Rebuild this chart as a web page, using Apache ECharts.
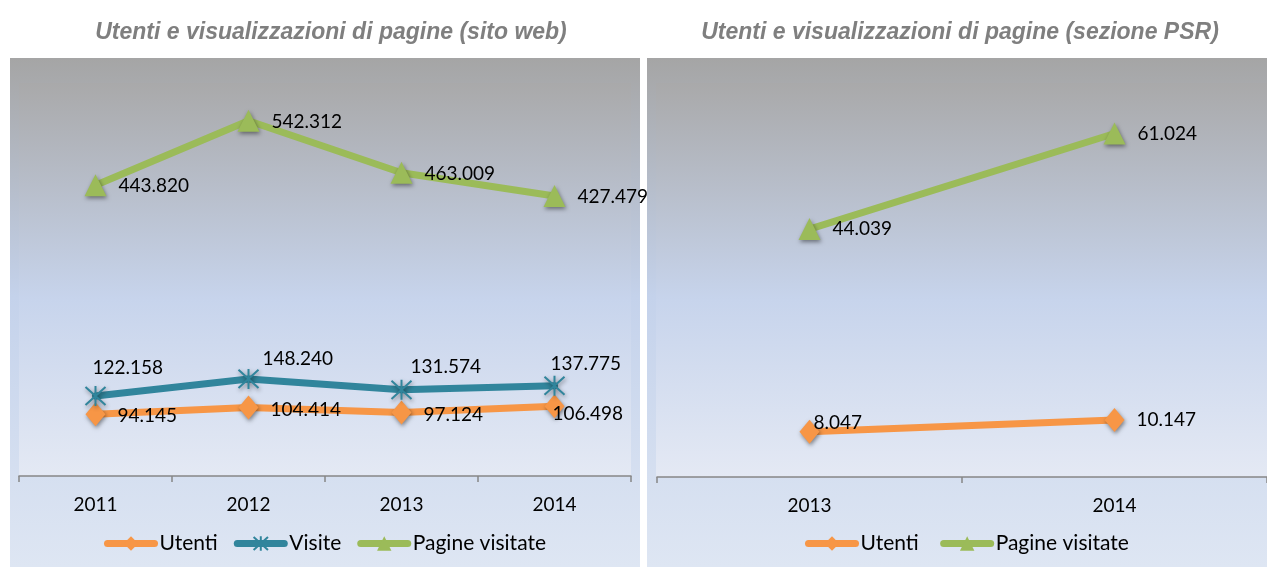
<!DOCTYPE html>
<html>
<head>
<meta charset="utf-8">
<script src="https://cdn.jsdelivr.net/npm/echarts@6/dist/echarts.min.js"></script>
<style>
html,body{margin:0;padding:0;background:#fff;}
#c{width:1267px;height:567px;}
</style>
</head>
<body>
<div id="c"></div>
<script>
// ---- data ----
var titleLeft = 'Utenti e visualizzazioni di pagine (sito web)';
var titleRight = 'Utenti e visualizzazioni di pagine (sezione PSR)';
var yearsLeft = ['2011', '2012', '2013', '2014'];
var utentiLeft = [94145, 104414, 97124, 106498];
var visiteLeft = [122158, 148240, 131574, 137775];
var pagineLeft = [443820, 542312, 463009, 427479];
var yearsRight = ['2013', '2014'];
var utentiRight = [8047, 10147];
var pagineRight = [44039, 61024];

// label nudges (style only), per point [dx, dy]
var nudgeUtentiLeft = [[6, 2], [6, 2], [6, 2], [-18, 8]];
var nudgeVisiteLeft = [[-20, -28], [-3, -20], [-8, -23], [-21, -22]];
var nudgeUtentiRight = [[-12, -9], [6, 0]];

var C_UT = '#f79646', C_VI = '#31859c', C_PA = '#9bbb59';
var FONT = 'Lato, "Open Sans", sans-serif';

function fmt(v) { return String(v).replace(/\B(?=(\d{3})+(?!\d))/g, '.'); }

var chart = echarts.init(document.getElementById('c'), null, {renderer: 'canvas'});

function grad(stops) {
  return new echarts.graphic.LinearGradient(0, 0, 0, 1, stops.map(function (s) { return {offset: s[0], color: s[1]}; }));
}
var outerStops = [[0, '#a5a5a5'], [0.47, '#c4d2eb'], [1, '#dee6f3']];
var innerStops = [[0, '#a9a9aa'], [0.55, '#c7d4ec'], [1, '#e4e9f4']];

var star = 'path://M0,0L20,20M20,0L0,20M10,-1L10,21';

function lbl(offset) {
  return {show: true, position: 'right', distance: 6, offset: offset,
    formatter: function (p) { return fmt(p.value); },
    color: '#000', fontFamily: FONT, fontSize: 19};
}
var shadow = {shadowBlur: 4, shadowColor: 'rgba(0,0,0,0.45)', shadowOffsetX: 1, shadowOffsetY: 2};

function withNudge(values, nudges) {
  if (!nudges) return values;
  return values.map(function (v, i) { return {value: v, label: {offset: nudges[i]}}; });
}

function series(name, data, color, symbol, size, xi, labelOffset, extraItem, nudges) {
  var item = Object.assign({color: color}, shadow, extraItem || {});
  return {
    name: name, type: 'line', xAxisIndex: xi, yAxisIndex: xi, data: withNudge(data, nudges),
    symbol: symbol, symbolSize: size, showAllSymbol: true,
    lineStyle: {color: color, width: 7, cap: 'round', join: 'round'},
    itemStyle: item,
    label: lbl(labelOffset),
    z: 3
  };
}

var xAxisBase = {
  type: 'category', boundaryGap: true,
  axisLine: {lineStyle: {color: '#868686', width: 1.5}},
  axisTick: {show: true, length: 6, lineStyle: {color: '#868686', width: 1.5}},
  axisLabel: {color: '#000', fontFamily: FONT, fontSize: 19, margin: 19},
  splitLine: {show: false}
};
var yAxisBase = {type: 'value', min: 0, show: false, splitLine: {show: false}};

var titleStyle = {fontFamily: '"Liberation Sans", Arial, sans-serif', fontStyle: 'italic', fontWeight: 'bold', fontSize: 23, color: '#7f7f7f'};
var legendBase = {top: 528, itemWidth: 47, itemHeight: 18, itemGap: 16,
  lineStyle: {width: 7, cap: 'round'},
  textStyle: {fontFamily: FONT, fontSize: 21, color: '#000'}};

var option = {
  animation: false,
  backgroundColor: '#fff',
  graphic: [
    {type: 'rect', shape: {x: 10, y: 58, width: 630, height: 509}, style: {fill: grad(outerStops)}, z: -10},
    {type: 'rect', shape: {x: 19, y: 83, width: 612, height: 393}, style: {fill: grad(innerStops)}, z: -9},
    {type: 'rect', shape: {x: 647, y: 58, width: 620, height: 509}, style: {fill: grad(outerStops)}, z: -10},
    {type: 'rect', shape: {x: 656, y: 83, width: 611, height: 394}, style: {fill: grad(innerStops)}, z: -9}
  ],
  title: [
    {text: titleLeft, left: 326, top: 16, textAlign: 'center', textStyle: titleStyle},
    {text: titleRight, left: 955, top: 16, textAlign: 'center', textStyle: titleStyle}
  ],
  legend: [
    Object.assign({data: ['Utenti', 'Visite', 'Pagine visitate'], left: 99}, legendBase),
    Object.assign({data: ['Utenti ', 'Pagine visitate '], left: 800}, legendBase)
  ],
  grid: [
    {left: 19, top: 83, width: 612, height: 393},
    {left: 657, top: 83, width: 612, height: 394}
  ],
  xAxis: [
    Object.assign({}, xAxisBase, {gridIndex: 0, data: yearsLeft}),
    Object.assign({}, xAxisBase, {gridIndex: 1, data: yearsRight})
  ],
  yAxis: [
    Object.assign({}, yAxisBase, {gridIndex: 0, max: 600000}),
    Object.assign({}, yAxisBase, {gridIndex: 1, max: 70000})
  ],
  series: [
    series('Utenti', utentiLeft, C_UT, 'diamond', [20, 24], 0, [6, 2], null, nudgeUtentiLeft),
    series('Visite', visiteLeft, C_VI, star, 20, 0, [-16, -24], {color: 'rgba(0,0,0,0)', borderColor: C_VI, borderWidth: 2}, nudgeVisiteLeft),
    series('Pagine visitate', pagineLeft, C_PA, 'triangle', 22, 0, [6, 1]),
    series('Utenti ', utentiRight, C_UT, 'diamond', [20, 24], 1, [6, 0], null, nudgeUtentiRight),
    series('Pagine visitate ', pagineRight, C_PA, 'triangle', 22, 1, [6, 0])
  ]
};
chart.setOption(option);
</script>
</body>
</html>
